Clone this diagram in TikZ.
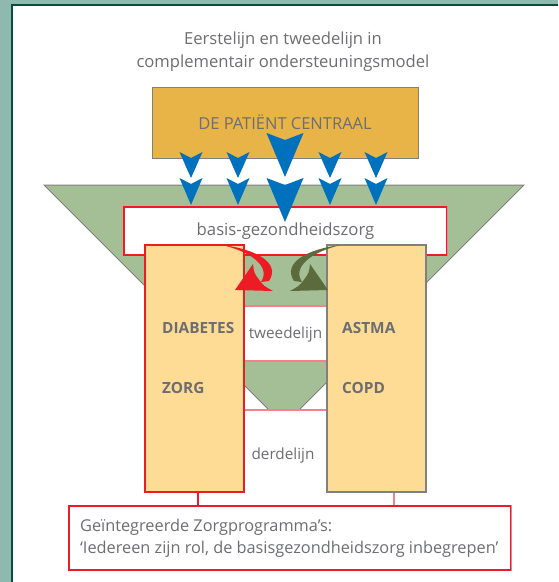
\documentclass[tikz,border=0pt]{standalone}
\usepackage{fontspec}
\setmainfont{Open Sans}
\usetikzlibrary{calc}
\definecolor{tealbg}{RGB}{143,184,174}
\definecolor{frameC}{RGB}{10,78,58}
\definecolor{funnelG}{RGB}{164,191,150}
\definecolor{patO}{RGB}{232,179,71}
\definecolor{colY}{RGB}{255,220,150}
\definecolor{redC}{RGB}{237,28,36}
\definecolor{pinkC}{RGB}{242,130,136}
\definecolor{grayB}{RGB}{128,128,128}
\definecolor{blueA}{RGB}{0,113,188}
\definecolor{txtG}{RGB}{109,110,113}
\definecolor{oliveA}{RGB}{91,107,59}
\tikzset{
  txt/.style={text=txtG, inner sep=0pt},
  patbox/.style={draw=grayB, line width=1pt, fill=patO, minimum width=266pt, minimum height=71pt, text=txtG, font=\fontsize{16.5}{20}\selectfont},
  basisbox/.style={draw=redC, line width=1.2pt, fill=white, minimum width=323pt, minimum height=48pt, text=txtG, font=\fontsize{16.7}{20}\selectfont},
  colbox/.style={fill=colY, line width=1.2pt, minimum width=99pt, minimum height=247pt},
  boldlbl/.style={txt, anchor=west, font=\bfseries\fontsize{15.4}{18}\selectfont},
  lijn/.style={txt, font=\fontsize{15.3}{18}\selectfont},
  pinkline/.style={draw=pinkC, line width=1.2pt},
  progbox/.style={draw=redC, line width=1.2pt, fill=white, minimum width=442pt, minimum height=64pt},
}
\newcommand\barrow[5]{\fill[blueA] ({#1-#3},#2) -- (#1,{#2+#4}) -- ({#1+#3},#2) -- (#1,{#2+#5}) -- cycle;}
\begin{document}
\begin{tikzpicture}[x=1pt,y=-1pt]
\useasboundingbox (0,0) rectangle (558,582);
% frame
\fill[tealbg] (0,0) rectangle (558,582);
\fill[white] (12.5,5.5) rectangle (558,582);
\draw[frameC, line width=2.4pt] (12.2,582) -- (12.2,5.2) -- (558,5.2);
% title
\node[txt, font=\fontsize{16.6}{23}\selectfont, align=center] (title) at (283,52) {Eerstelijn en tweedelijn in\\complementair ondersteuningsmodel};
% patient box
\node[patbox] (pat) at (285,122.5) {DE PATIËNT CENTRAAL};
% funnel
\fill[funnelG] (44,185) -- (524,185) -- (299,410) -- (269,410) -- cycle;
\draw[grayB, line width=1pt] (269,410) -- (44,185) -- (524,185) -- (299,410);
% basis box
\node[basisbox] (basis) at (285.5,231) {basis-gezondheidszorg};
\draw[pinkline] (basis.north east) -- (basis.south east);
% tweedelijn band
\fill[white] (244,306) rectangle (327,361);
% columns
\node[colbox, draw=redC] (diab) at (194.5,368.5) {};
\node[colbox, draw=grayB] (ast) at (376.5,368.5) {};
\draw[pinkline] (diab.east |- 0,306) -- (ast.west |- 0,306);
\draw[pinkline] (diab.east |- 0,361) -- (ast.west |- 0,361);
\draw[pinkline] (diab.east |- 0,410) -- (ast.west |- 0,410);
\node[lijn] (tw) at (285.5,335) {tweedelijn};
\node[lijn] (der) at (283,456) {derdelijn};
\node[boldlbl] (diabT) at (162,328) {DIABETES};
\node[boldlbl] (zorgT) at (162,388) {ZORG};
\node[boldlbl] (astT) at (342,328) {ASTMA};
\node[boldlbl] (copdT) at (342,388) {COPD};
% bottom box
\node[progbox] (prog) at (290,538) {};
\draw[pinkline] (prog.north east) -- (prog.south east);
\node[txt, anchor=base west, font=\fontsize{16.3}{21.5}\selectfont, align=left] (progT) at (80,553) {Geïntegreerde Zorgprogramma’s:\\‘Iedereen zijn rol, de basisgezondheidszorg inbegrepen’};
% connectors
\draw[redC, line width=1.2pt] ([xshift=3.5pt]diab.south) -- ([xshift=3.5pt]diab.south |- prog.north);
\draw[pinkline] ([xshift=17.5pt]ast.south) -- ([xshift=17.5pt]ast.south |- prog.north);
% blue arrows
\foreach \xx in {191,238,330,376}{\barrow{\xx}{152}{11.5}{6}{26}\barrow{\xx}{178}{11.5}{6}{27}}
\barrow{285}{133}{18.5}{7}{44}
\barrow{285}{178}{18.5}{7}{44}
% red curved arrow
\fill[redC] (222,245) .. controls (256,249) and (281,263) .. (269,281) -- (261,282)
   .. controls (271,267) and (252,252) .. (222,245) -- cycle;
\fill[redC] (235,290) -- (253,264) .. controls (254,273) .. (260,281) .. controls (264,286) .. (273,291) -- cycle;
% green curved arrow (mirror)
\begin{scope}[shift={(563,0)}, xscale=-1]
\fill[oliveA] (222,245) .. controls (256,249) and (281,263) .. (269,281) -- (261,282)
   .. controls (271,267) and (252,252) .. (222,245) -- cycle;
\fill[oliveA] (235,290) -- (253,264) .. controls (254,273) .. (260,281) .. controls (264,286) .. (273,291) -- cycle;
\end{scope}
\end{tikzpicture}
\end{document}
